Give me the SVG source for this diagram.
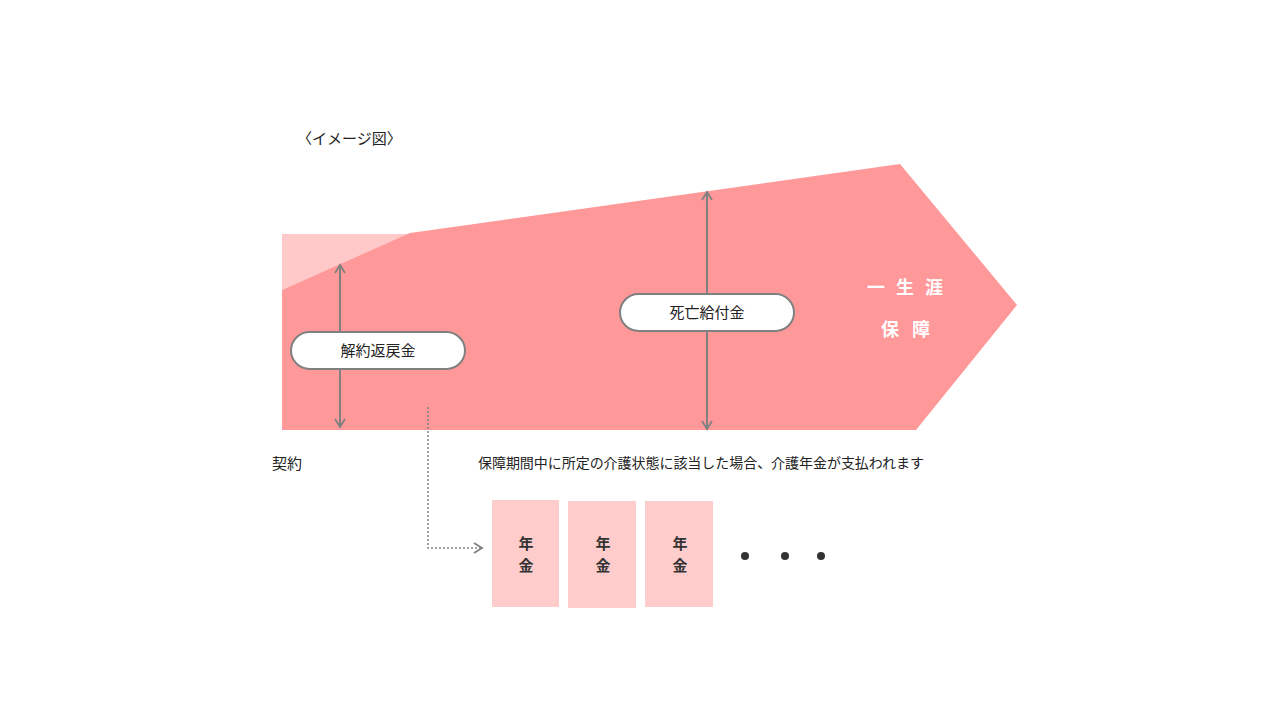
<svg xmlns="http://www.w3.org/2000/svg" width="1280" height="720" viewBox="0 0 1280 720">
<style>
text{font-family:"Noto Sans CJK JP","Noto Sans",sans-serif;fill:#222}
.pill{fill:#fff;stroke:#808080;stroke-width:2}
.ln{stroke:#808080;stroke-width:2;fill:none}
.box{fill:#FFCCCC}
.bx{font-size:15px;font-weight:bold;text-anchor:middle;fill:#333}
.wt{font-size:18px;font-weight:bold;fill:#fff}
</style>
<defs>
<marker id="ah" viewBox="0 0 12 12" refX="10" refY="6" markerWidth="12" markerHeight="12" markerUnits="userSpaceOnUse" orient="auto-start-reverse">
<path d="M2,1 L10,6 L2,11" fill="none" stroke="#808080" stroke-width="1.8"/>
</marker>
</defs>
<rect width="1280" height="720" fill="#fff"/>
<text x="297" y="144" font-size="15">〈イメージ図〉</text>
<g id="shape">
<polygon points="282,234 410,234 282,290" fill="#FFC9C9"/>
<polygon points="282,290 410,233 900,164 1017,305 916,430 282,430" fill="#FF9999"/>
<text class="wt" x="867" y="294" letter-spacing="11">一生涯</text>
<text class="wt" x="881" y="336" letter-spacing="13">保障</text>
</g>
<g id="connectors">
<line class="ln" x1="340" y1="265" x2="340" y2="427" marker-start="url(#ah)" marker-end="url(#ah)"/>
<line class="ln" x1="707" y1="192" x2="707" y2="429" marker-start="url(#ah)" marker-end="url(#ah)"/>
<polyline points="428,407 428,548 482,548" fill="none" stroke="#808080" stroke-width="1.5" stroke-dasharray="2,2" marker-end="url(#ah)"/>
</g>
<g id="surrender">
<rect class="pill" x="291" y="332" width="174" height="37" rx="18.5"/>
<text x="378" y="356" font-size="15" text-anchor="middle">解約返戻金</text>
</g>
<g id="death">
<rect class="pill" x="620" y="294" width="174" height="37" rx="18.5"/>
<text x="707" y="318" font-size="15" text-anchor="middle">死亡給付金</text>
</g>
<text x="272" y="469" font-size="15">契約</text>
<text x="478" y="468" font-size="14" textLength="446" lengthAdjust="spacing">保障期間中に所定の介護状態に該当した場合、介護年金が支払われます</text>
<g id="p1"><rect class="box" x="492" y="500" width="67" height="107"/><text class="bx" x="526" y="549">年</text><text class="bx" x="526" y="571">金</text></g>
<g id="p2"><rect class="box" x="568" y="501" width="68" height="107"/><text class="bx" x="603" y="549">年</text><text class="bx" x="603" y="571">金</text></g>
<g id="p3"><rect class="box" x="645" y="501" width="68" height="106"/><text class="bx" x="680" y="549">年</text><text class="bx" x="680" y="571">金</text></g>
<g id="dots" fill="#333"><circle cx="745" cy="556" r="4"/><circle cx="785" cy="556" r="4"/><circle cx="821" cy="556" r="4"/></g>
</svg>
